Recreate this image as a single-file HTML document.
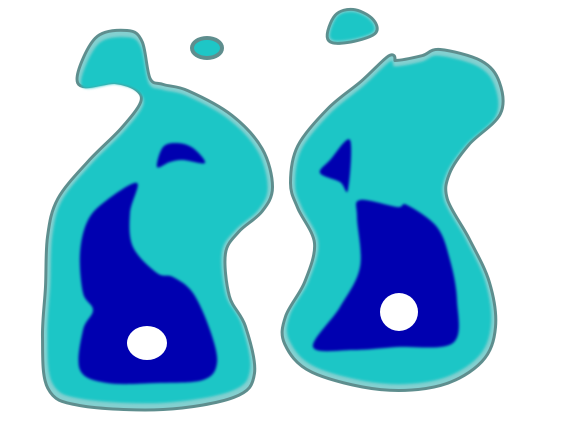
<!DOCTYPE html>
<html><head><meta charset="utf-8"><style>
html,body{margin:0;padding:0;background:#fff;width:563px;height:443px;overflow:hidden}
</style></head><body>
<svg id="c" width="563" height="443" viewBox="0 0 563 443">
<defs><filter id="bl" x="-10%" y="-10%" width="120%" height="120%"><feGaussianBlur stdDeviation="1.3"/></filter></defs>
</svg>
<script>
const leftOuter=[[80,82],[97,40],[127,33],[140,43],[148,80],[163,87],[187,93],[230,117],[260,150],[270,187],[260,210],[237,230],[223,253],[227,297],[243,327],[252,373],[233,395],[163,407],[80,403],[50,387],[45,337],[48,287],[50,237],[60,200],[90,163],[123,130],[143,103],[138,88],[115,80]];
const leftBlue=[[80,370],[83,330],[93,310],[83,293],[80,253],[88,220],[107,200],[137,183],[130,213],[133,247],[157,273],[173,277],[193,293],[210,330],[217,363],[203,380],[157,383],[107,383]];
const leftCres=[[157,167],[163,147],[177,143],[193,148],[205,163],[183,160],[170,162]];
const rightOuter=[[390,58],[395,63],[423,58],[440,52],[480,63],[497,83],[498,113],[467,143],[447,173],[445,200],[467,240],[487,283],[493,327],[480,360],[440,383],[380,387],[313,370],[287,343],[288,317],[307,283],[317,243],[300,207],[293,183],[300,147],[330,110],[363,83]];
const rightBlue=[[313,347],[340,307],[360,267],[357,217],[360,200],[397,207],[407,205],[437,227],[450,260],[457,300],[453,343],[397,347],[353,350]];
const rightCres=[[350,140],[348,190],[340,182],[320,173],[330,160]];
const smallTop=[[330,38],[337,17],[353,12],[370,20],[373,32],[347,40]];
const NS='http://www.w3.org/2000/svg';
const svg=document.getElementById('c');
function smooth(p){let d='M'+p[0][0]+','+p[0][1];const n=p.length;
for(let i=0;i<n;i++){const p0=p[(i-1+n)%n],p1=p[i],p2=p[(i+1)%n],p3=p[(i+2)%n];
d+=' C'+(p1[0]+(p2[0]-p0[0])/6)+','+(p1[1]+(p2[1]-p0[1])/6)+' '+(p2[0]-(p3[0]-p1[0])/6)+','+(p2[1]-(p3[1]-p1[1])/6)+' '+p2[0]+','+p2[1];}
return d+'Z';}
function add(tag,attrs,name){const e=document.createElementNS(NS,tag);for(const k in attrs)e.setAttribute(k,attrs[k]);


svg.appendChild(e);return e;}
function outer(p,name){
add('path',{d:smooth(p),fill:'#5e8e8e',stroke:'#5e8e8e','stroke-width':8,'stroke-linejoin':'round'},name+'-border');
add('path',{d:smooth(p),fill:'#84d0d0',stroke:'#84d0d0','stroke-width':2,'stroke-linejoin':'round'},name+'-band');
add('path',{d:smooth(p),fill:'#1ec6c6',stroke:'#1ec6c6','stroke-width':1,transform:'',filter:'url(#bl)','stroke-linejoin':'round',style:'transform-box:fill-box;transform-origin:center;transform:scale(0.975)'},name);}
outer(leftOuter,'left-region');
outer(rightOuter,'right-region');
outer(smallTop,'small-top-region');
add('ellipse',{cx:207,cy:48,rx:15,ry:10,fill:'#1ec6c6',stroke:'#5e8e8e','stroke-width':4},'small-ellipse-region');
add('path',{d:smooth(leftBlue),fill:'#0000b0',filter:'url(#bl)'},'left-dark-region');
add('path',{d:smooth(leftCres),fill:'#0000b0',filter:'url(#bl)'},'left-crescent');
add('path',{d:smooth(rightBlue),fill:'#0000b0',filter:'url(#bl)'},'right-dark-region');
add('path',{d:smooth(rightCres),fill:'#0000b0',filter:'url(#bl)'},'right-crescent');
add('ellipse',{cx:147,cy:343,rx:20,ry:17,fill:'#fff'},'left-hole');
add('ellipse',{cx:399,cy:312,rx:19,ry:19,fill:'#fff'},'right-hole');
</script>
</body></html>
